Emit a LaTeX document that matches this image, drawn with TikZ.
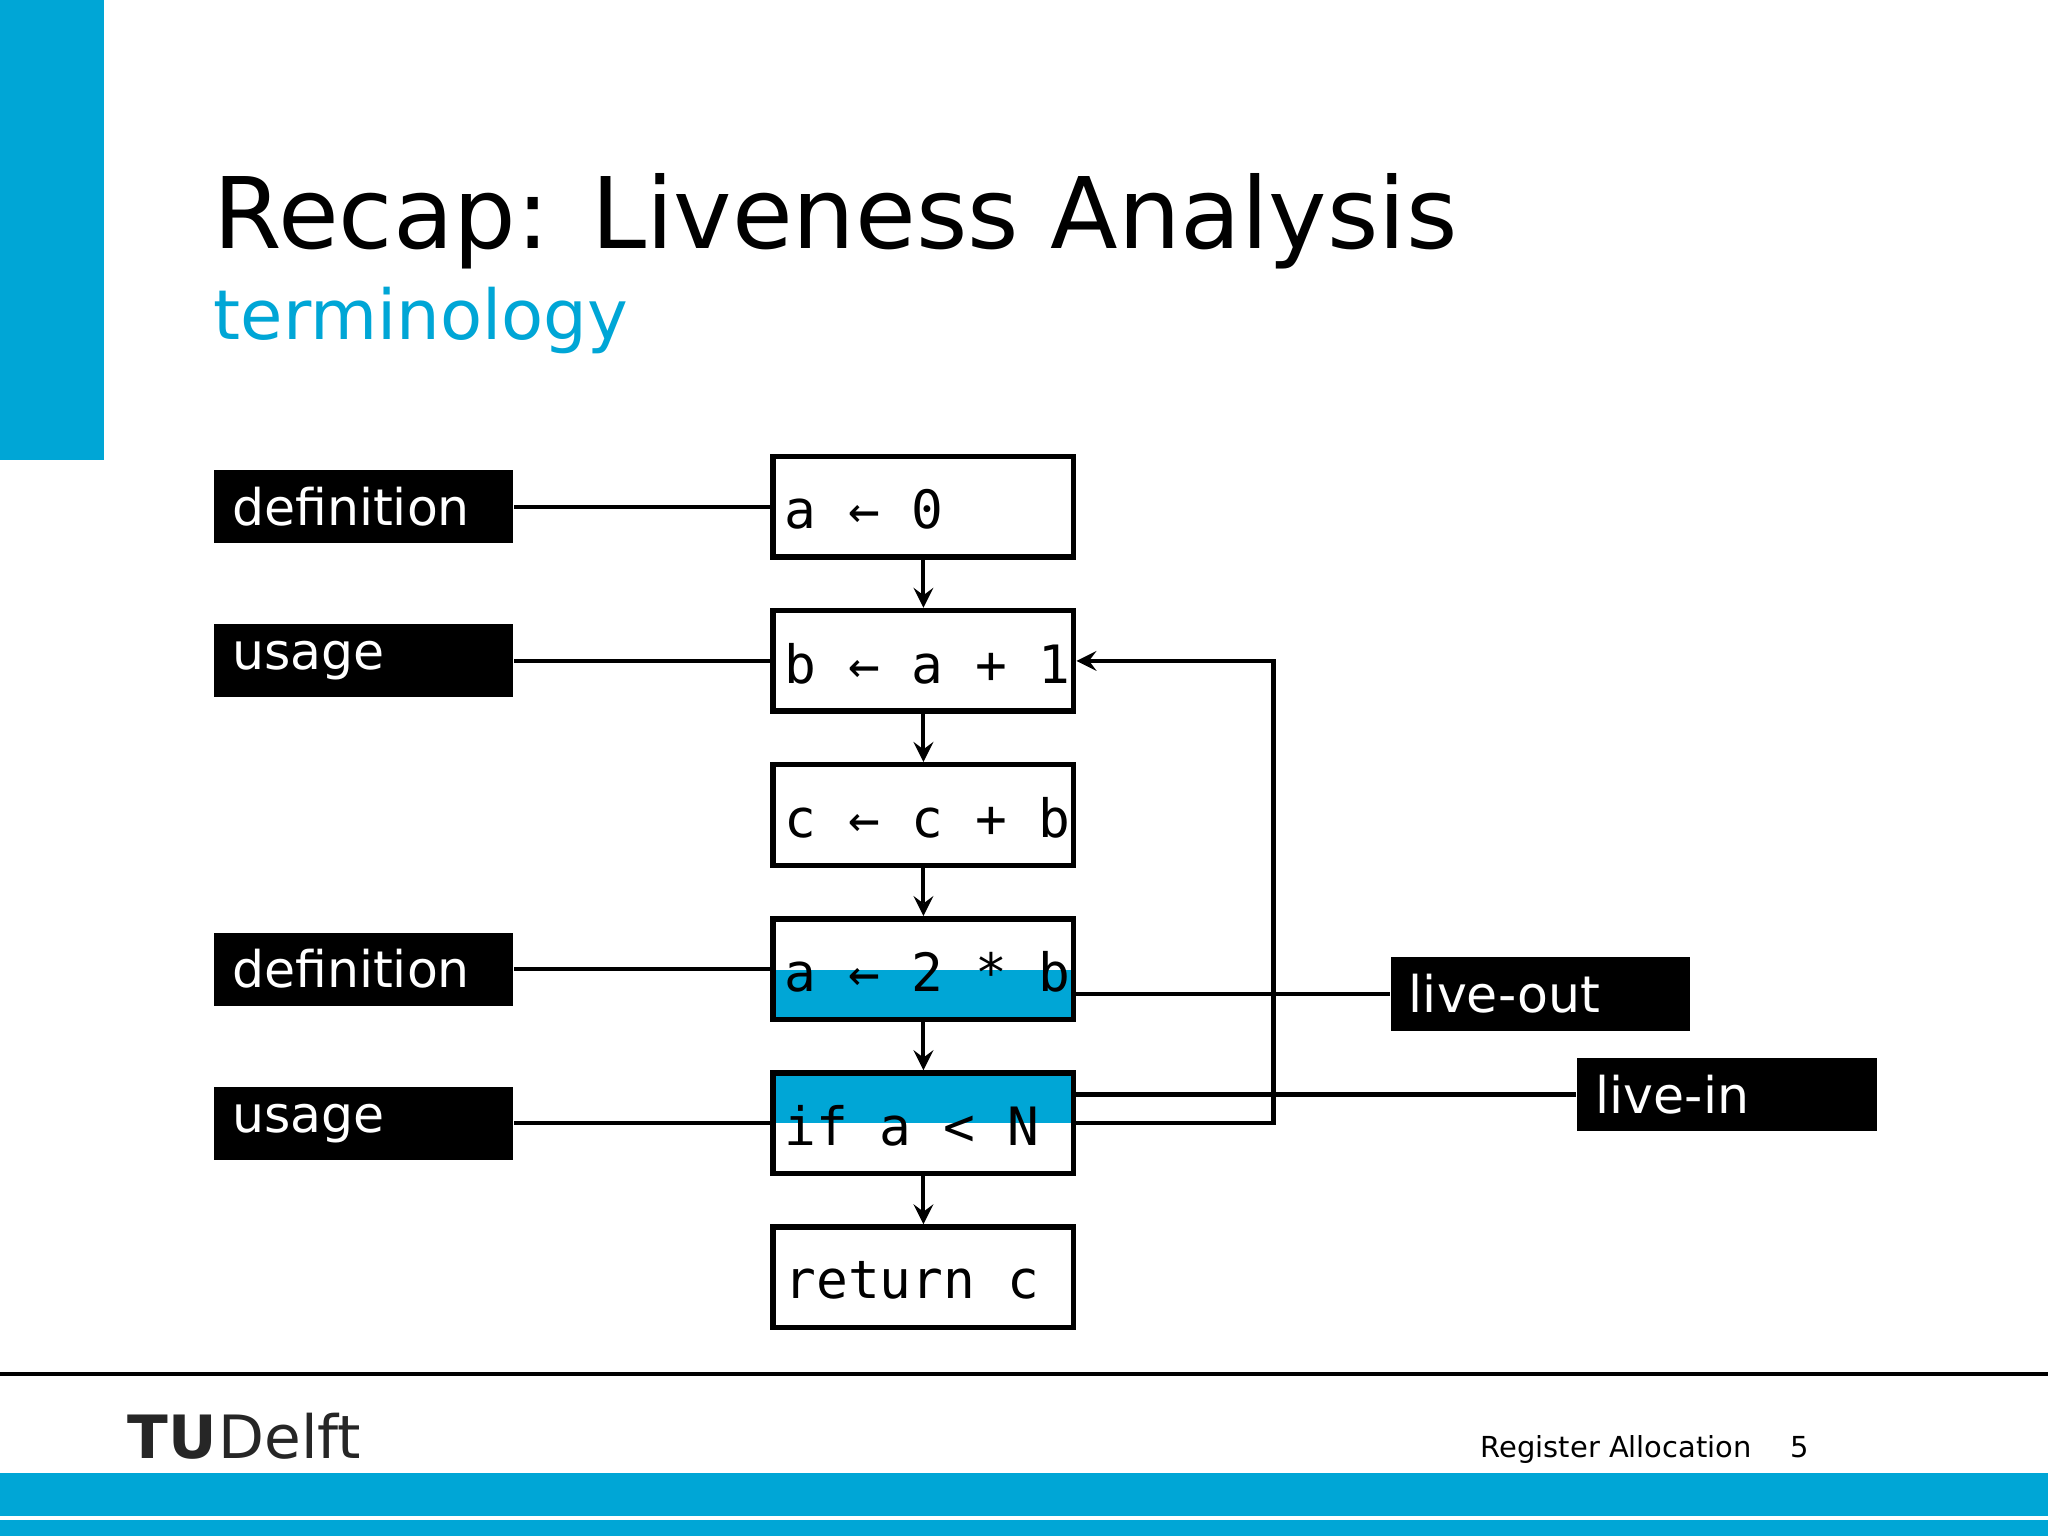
\documentclass[tikz,border=0pt]{standalone}
\usepackage{fontspec}
\setmainfont{DejaVu Sans}
\newfontfamily\codefont{DejaVu Sans Mono}
\definecolor{tublue}{HTML}{00A6D6}
\begin{document}
\begin{tikzpicture}[x=0.01cm,y=-0.01cm,
  lab/.style={fill=black,text=white,anchor=west,minimum width=229\pgflinewidth*0+6.5cm*0+2.29cm,minimum height=0.56cm,inner sep=0pt,font=\fontsize{11}{13}\selectfont,text width=2.15cm,align=left},
  code/.style={draw=black,line width=1.2pt,minimum width=2.30cm,minimum height=0.77cm,inner sep=0pt},
  ctext/.style={anchor=west,inner sep=0pt,font=\codefont\fontsize{11.5}{13}\selectfont},
  arr/.style={-stealth,line width=0.9pt},
  ln/.style={line width=0.9pt}]
\useasboundingbox (0,0) rectangle (1568,1176);
\fill[white] (0,0) rectangle (1568,1176);
\fill[tublue] (0,0) rectangle (80,352);
\node[anchor=base west,inner sep=0pt,font=\fontsize{21.5}{24}\selectfont] (title) at (163,190) {Recap: Liveness Analysis};
\node[anchor=base west,inner sep=0pt,text=tublue,font=\fontsize{15}{18}\selectfont] (sub) at (163,260) {terminology};
% code boxes
\foreach \n/\y in {1/388,2/506,3/624,4/742,5/860,6/978}{
  \node[code] (b\n) at (707,\y) {};
}
\fill[tublue] (592,743) rectangle (822,781);
\fill[tublue] (592,822) rectangle (822,860);
\foreach \n in {4,5}{\node[code] at (b\n) {};}
\node[ctext] (t1) at (600,390) {a ← 0};
\node[ctext] (t2) at (600,508) {b ← a + 1};
\node[ctext] (t3) at (600,626) {c ← c + b};
\node[ctext] (t4) at (600,744) {a ← 2 * b};
\node[ctext] (t5) at (600,862) {if a < N};
\node[ctext] (t6) at (600,980) {return c};
\foreach \a/\b in {1/2,2/3,3/4,4/5,5/6}{\draw[arr] (b\a.south) -- (b\b.north);}
% labels
\node[lab] (l1) at (163,388) {\hspace{0.07cm}definition};
\node[lab] (l2) at (163,506) {\hspace{0.07cm}usage};
\node[lab] (l3) at (163,742) {\hspace{0.07cm}definition};
\node[lab] (l4) at (163,860) {\hspace{0.07cm}usage};
\foreach \i/\n in {1/1,2/2,3/4,4/5}{\draw[ln] (l\i.east) -- (b\n.west |- l\i.east);}
\node[lab] (lo) at (1064,761) {\hspace{0.07cm}live-out};
\node[lab] (li) at (1207,838) {\hspace{0.07cm}live-in};
\draw[ln] (b4.east |- lo.west) -- (lo.west);
\draw[ln] (b5.east |- li.west) -- (li.west);
\coordinate (c1) at (975,860);
\coordinate (c2) at (975,506);
\draw[arr] (b5.east) -- (c1) -- (c2) -- (b2.east);
% footer
\draw[line width=0.8pt] (0,1052) -- (1568,1052);
\node[anchor=base west,inner sep=0pt,font=\bfseries\fontsize{13}{15}\selectfont,text=black!85] (tu) at (97,1117) {TU};
\node[anchor=base west,inner sep=0pt,font=\fontsize{13}{15}\selectfont,text=black!85] (delft) at (tu.base east) {Delft};
\node[anchor=base west,inner sep=0pt,font=\fontsize{6.3}{8}\selectfont] (ra) at (1133,1116) {Register Allocation\hspace{0.3cm}5};
\fill[tublue] (0,1128) rectangle (1568,1176);
\draw[white,line width=0.8pt] (0,1162) -- (1568,1162);
\end{tikzpicture}
\end{document}
